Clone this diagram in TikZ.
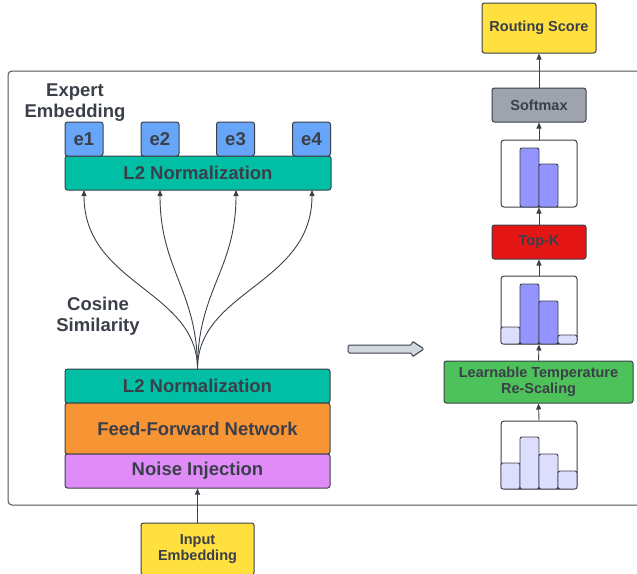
\documentclass[tikz,border=0pt]{standalone}
\usepackage{fontspec}
\setmainfont{Liberation Sans}
\usetikzlibrary{arrows.meta}
\definecolor{txt}{HTML}{3B3F4A}
\definecolor{edge}{HTML}{3A4049}
\definecolor{eblue}{HTML}{66A5F7}
\definecolor{teal}{HTML}{00BFA5}
\definecolor{ffnorange}{HTML}{F79433}
\definecolor{noisepurple}{HTML}{E08CF8}
\definecolor{yel}{HTML}{FFE03F}
\definecolor{sgray}{HTML}{9EA3AD}
\definecolor{tred}{HTML}{E41515}
\definecolor{lgreen}{HTML}{4EC25A}
\definecolor{bardark}{HTML}{9494FF}
\definecolor{barlight}{HTML}{DDDDFD}
\definecolor{blockarrow}{HTML}{D3D8DF}
\tikzset{
  box/.style={draw=edge, line width=1pt, rounded corners=2.5pt, inner sep=0pt, align=center, text=txt, font=\fontsize{18.5}{21}\selectfont\bfseries},
  smallbox/.style={box, font=\fontsize{14.5}{16.5}\selectfont\bfseries},
  chart/.style={draw=edge, line width=1pt, rounded corners=3pt, fill=white, inner sep=0pt, minimum width=76pt},
  bar/.style={draw=edge, line width=0.9pt, rounded corners=2pt},
  lbl/.style={align=center, text=txt, font=\fontsize{18.5}{21}\selectfont\bfseries},
  arr/.style={draw=edge, line width=0.9pt, -{Triangle[length=6pt,width=5pt]}},
}
\begin{document}
\begin{tikzpicture}[x=1pt,y=-1pt]
\useasboundingbox (0,0) rectangle (637,573);
% frame
\draw[draw=edge!90, line width=1pt, rounded corners=4pt] (8,71) rectangle (660,505);

% left column
\node[lbl] (expert) at (75,102.5) {Expert\\Embedding};
\node[lbl] (cosine) at (98,316) {Cosine\\Similarity};

\node[box, fill=teal, minimum width=266pt, minimum height=34pt] (topl2) at (198,173) {L2 Normalization};
\node[box, fill=eblue, minimum width=38pt, minimum height=34pt] (e1) at (84,139) {e1};
\node[box, fill=eblue, minimum width=38pt, minimum height=34pt] (e2) at (160,139) {e2};
\node[box, fill=eblue, minimum width=38pt, minimum height=34pt] (e3) at (235.5,139) {e3};
\node[box, fill=eblue, minimum width=38pt, minimum height=34pt] (e4) at (311.5,139) {e4};

\node[box, fill=teal, minimum width=265pt, minimum height=34pt] (botl2) at (197.5,386) {L2 Normalization};
\node[box, fill=ffnorange, minimum width=265pt, minimum height=51pt] (ffn) at (197.5,428.5) {Feed-Forward Network};
\node[box, fill=noisepurple, minimum width=265pt, minimum height=34pt] (noise) at (197.5,471) {Noise Injection};
\node[smallbox, fill=yel, minimum width=113pt, minimum height=52pt] (input) at (197.5,549) {Input\\Embedding};

\coordinate (fan) at (197.5,369);
\coordinate (t1) at (84,190);
\coordinate (t2) at (160,190);
\coordinate (t3) at (236,190);
\coordinate (t4) at (312,190);
\draw[arr] (fan) .. controls (197.5,290) and (84,285) .. (t1);
\draw[arr] (fan) .. controls (197.5,290) and (160,270) .. (t2);
\draw[arr] (fan) .. controls (197.5,290) and (236,270) .. (t3);
\draw[arr] (fan) .. controls (197.5,290) and (312,285) .. (t4);

\draw[arr] (input.north) -- (noise.south);

% block arrow
\draw[draw=edge, line width=1pt, fill=blockarrow, rounded corners=1.5pt]
  (348,345) -- (412,345) -- (412,341) -- (424,349) -- (412,357) -- (412,353) -- (348,353) -- cycle;

% right column
\node[smallbox, fill=yel, minimum width=114pt, minimum height=50pt] (routing) at (539,28) {Routing Score};
\node[smallbox, fill=sgray, minimum width=94pt, minimum height=34pt] (softmax) at (539,105) {Softmax};
\node[chart, minimum height=67pt] (chart1) at (539,173.5) {};
\node[smallbox, fill=tred, minimum width=94pt, minimum height=34pt] (topk) at (539,242) {Top-K};
\node[chart, minimum height=68pt] (chart2) at (539,310) {};
\node[smallbox, fill=lgreen, minimum width=189pt, minimum height=42pt] (learn) at (538.5,382) {Learnable Temperature\\Re-Scaling};
\node[chart, minimum height=68pt] (chart3) at (539,455) {};

% bars chart1
\draw[bar, fill=bardark] (520,207) rectangle (539,148);
\draw[bar, fill=bardark] (539,207) rectangle (558,164);
% bars chart2
\draw[bar, fill=barlight] (501,344) rectangle (520,327);
\draw[bar, fill=bardark] (520,344) rectangle (539,284);
\draw[bar, fill=bardark] (539,344) rectangle (558,301);
\draw[bar, fill=barlight] (558,344) rectangle (577,335);
% bars chart3
\draw[bar, fill=barlight] (501,489) rectangle (520,463);
\draw[bar, fill=barlight] (520,489) rectangle (539,437);
\draw[bar, fill=barlight] (539,489) rectangle (558,454);
\draw[bar, fill=barlight] (558,489) rectangle (577,471);

\draw[arr] (chart3.north) -- (learn.south);
\draw[arr] (learn.north) -- (chart2.south);
\draw[arr] (chart2.north) -- (topk.south);
\draw[arr] (topk.north) -- (chart1.south);
\draw[arr] (chart1.north) -- (softmax.south);
\draw[arr] (softmax.north) -- (routing.south);
\end{tikzpicture}
\end{document}
